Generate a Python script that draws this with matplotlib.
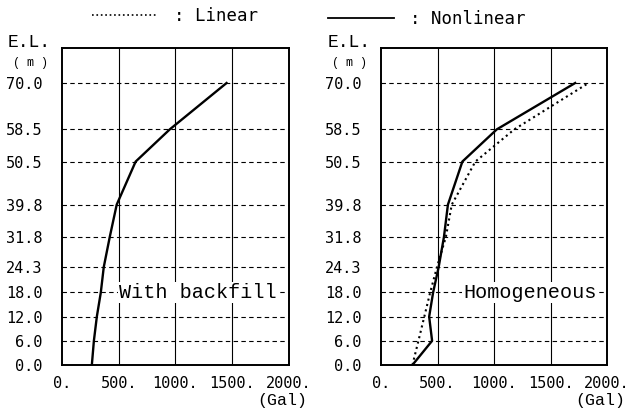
import matplotlib.pyplot as plt
from matplotlib.lines import Line2D

# elevation levels (m) and acceleration (Gal)
elev = [0.0, 6.0, 12.0, 18.0, 24.3, 31.8, 39.8, 50.5, 58.5, 70.0]
elev_labels = ["0.0", "6.0", "12.0", "18.0", "24.3", "31.8", "39.8", "50.5", "58.5", "70.0"]

backfill_nonlinear = [263, 281, 307, 342, 368, 421, 482, 649, 950, 1450]

homog_linear = [278, 331, 383, 435, 495, 574, 626, 835, 1180, 1836]
homog_nonlinear = [278, 452, 426, 461, 510, 557, 592, 720, 1025, 1718]

xticks = [0, 500, 1000, 1500, 2000]
xtick_labels = ["0.", "500.", "1000.", "1500.", "2000."]

mono = "DejaVu Sans Mono"
courier = "Liberation Mono"

fig = plt.figure(figsize=(6.3, 4.15), dpi=100)
ax1 = fig.add_axes([0.0984, 0.1205, 0.3603, 0.7639])
ax2 = fig.add_axes([0.6048, 0.1205, 0.3587, 0.7639])


def style(ax):
    ax.set_xlim(0, 2000)
    ax.set_ylim(0, 78.7)
    ax.set_xticks(xticks)
    ax.set_xticklabels(xtick_labels, fontfamily=mono, fontsize=11)
    ax.set_yticks(elev)
    ax.set_yticklabels(elev_labels, fontfamily=mono, fontsize=11)
    ax.tick_params(length=0)
    ax.tick_params(axis="x", pad=8)
    ax.tick_params(axis="y", pad=14)
    for v in xticks[1:-1]:
        ax.axvline(v, color="black", lw=0.8, zorder=1)
    for e in elev[1:]:
        ax.axhline(e, color="black", lw=0.8, ls=(0, (4, 3)), zorder=1)
    for s in ax.spines.values():
        s.set_linewidth(1.4)
    ax.text(-0.143, 1.016, "E.L.", transform=ax.transAxes, ha="center", va="center",
            fontfamily=courier, fontsize=13)
    ax.text(-0.14, 0.953, "( m )", transform=ax.transAxes, ha="center", va="center",
            fontfamily=courier, fontsize=8.5)
    ax.text(1.08, -0.112, "(Gal)", transform=ax.transAxes, ha="right", va="center",
            fontfamily=courier, fontsize=12)


style(ax1)
style(ax2)

ax1.plot(backfill_nonlinear, elev, color="black", lw=1.7, zorder=3)
ax1.text(0.60, 18.0, "With backfill", transform=ax1.get_yaxis_transform(),
         ha="center", va="center", fontfamily=courier, fontsize=14.5, zorder=4,
         bbox=dict(facecolor="white", edgecolor="none", pad=1))

ax2.plot(homog_linear, elev, color="black", lw=1.5, ls=":", zorder=3)
ax2.plot(homog_nonlinear, elev, color="black", lw=1.7, zorder=3)
ax2.text(0.66, 18.0, "Homogeneous", transform=ax2.get_yaxis_transform(),
         ha="center", va="center", fontfamily=courier, fontsize=14.5, zorder=4,
         bbox=dict(facecolor="white", edgecolor="none", pad=1))

h_lin = Line2D([], [], color="black", lw=1.2, ls=":")
h_non = Line2D([], [], color="black", lw=1.3)
fig.legend(handles=[h_lin], labels=[": Linear"], loc="center",
           bbox_to_anchor=(0.278, 0.961), frameon=False, handlelength=3.8,
           handletextpad=0.9, prop={"family": mono, "size": 12.5})
fig.legend(handles=[h_non], labels=[": Nonlinear"], loc="center",
           bbox_to_anchor=(0.677, 0.954), frameon=False, handlelength=3.8,
           handletextpad=0.9, prop={"family": mono, "size": 12.5})

fig.savefig("out.png", dpi=100)
